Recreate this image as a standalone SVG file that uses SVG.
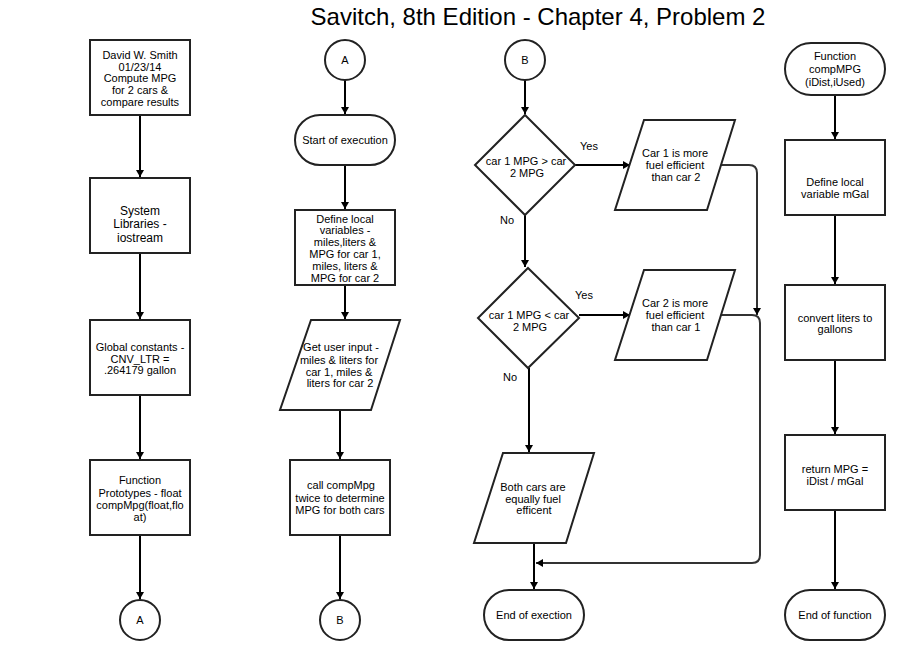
<svg xmlns="http://www.w3.org/2000/svg" width="905" height="660" viewBox="0 0 905 660">
<defs>
<style>
.n{fill:#fff;stroke:#222;stroke-width:2}
.t{font-family:"Liberation Sans",Arial,sans-serif;font-size:11px;fill:#000;text-anchor:middle}
.t12{font-size:12px}
.c{fill:none;stroke:#000;stroke-width:2}
.g{fill:none;stroke:#333;stroke-width:2}
.title{font-family:"Liberation Sans",Arial,sans-serif;font-size:24px;fill:#000;text-anchor:middle}
</style>
<marker id="ah" markerWidth="9" markerHeight="9" refX="7" refY="4" orient="auto" markerUnits="userSpaceOnUse">
<path d="M0,0 L7,4 L0,8 z" fill="#000"/>
</marker>
</defs>
<rect width="905" height="660" fill="#fff"/>
<text class="title" x="538" y="25">Savitch, 8th Edition - Chapter 4, Problem 2</text>

<g id="connectors">
<path class="c" d="M140,115 V177" marker-end="url(#ah)"/>
<path class="c" d="M140,253 V319" marker-end="url(#ah)"/>
<path class="c" d="M140,395 V459" marker-end="url(#ah)"/>
<path class="c" d="M140,535 V599" marker-end="url(#ah)"/>
<path class="c" d="M345,80 V114" marker-end="url(#ah)"/>
<path class="c" d="M345,165 V209" marker-end="url(#ah)"/>
<path class="c" d="M345,285 V319" marker-end="url(#ah)"/>
<path class="c" d="M340,410 V459" marker-end="url(#ah)"/>
<path class="c" d="M340,535 V599" marker-end="url(#ah)"/>
<path class="c" d="M525,80 V114" marker-end="url(#ah)"/>
<path class="c" d="M575,165 H630" marker-end="url(#ah)"/>
<path class="c" d="M525,215 V267" marker-end="url(#ah)"/>
<path class="c" d="M579,315 H630" marker-end="url(#ah)"/>
<path class="c" d="M529,368 V452" marker-end="url(#ah)"/>
<path class="c" d="M534,543 V589" marker-end="url(#ah)"/>
<path class="g" d="M720,165 H749 Q757,165 757,173 V315" marker-end="url(#ah)"/>
<path class="g" d="M720,315 H752 Q760,315 760,323 V555 Q760,563 752,563 H536" marker-end="url(#ah)"/>
<path class="c" d="M835,95 V139" marker-end="url(#ah)"/>
<path class="c" d="M835,215 V284" marker-end="url(#ah)"/>
<path class="c" d="M835,360 V434" marker-end="url(#ah)"/>
<path class="c" d="M835,510 V589" marker-end="url(#ah)"/>
<text class="t" x="589" y="150">Yes</text>
<text class="t" x="507" y="223.5">No</text>
<text class="t" x="584" y="299">Yes</text>
<text class="t" x="510" y="381">No</text>
</g>

<g id="header">
<rect class="n" x="90" y="40" width="100" height="75"/>
<text class="t" x="140" y="59">David W. Smith</text>
<text class="t" x="140" y="70.7">01/23/14</text>
<text class="t" x="140" y="82.4">Compute MPG</text>
<text class="t" x="140" y="94">for 2 cars &amp;</text>
<text class="t" x="140" y="105.7">compare results</text>
</g>
<g id="libraries">
<rect class="n" x="90" y="178" width="100" height="75"/>
<text class="t t12" x="140" y="214.5">System</text>
<text class="t t12" x="140" y="228">Libraries -</text>
<text class="t t12" x="140" y="241.5">iostream</text>
</g>
<g id="constants">
<rect class="n" x="90" y="320" width="100" height="75"/>
<text class="t" x="140" y="351">Global constants -</text>
<text class="t" x="140" y="362.5">CNV_LTR =</text>
<text class="t" x="140" y="374">.264179 gallon</text>
</g>
<g id="prototypes">
<rect class="n" x="90" y="460" width="100" height="75"/>
<text class="t" x="140" y="484">Function</text>
<text class="t" x="140" y="496.5">Prototypes - float</text>
<text class="t" x="140" y="509">compMpg(float,flo</text>
<text class="t" x="140" y="520.5">at)</text>
</g>
<g id="connA1">
<circle class="n" cx="140" cy="620" r="20"/>
<text class="t" x="140" y="624">A</text>
</g>

<g id="connA2">
<circle class="n" cx="345" cy="60" r="20"/>
<text class="t" x="345" y="64">A</text>
</g>
<g id="start">
<rect class="n" x="295" y="115" width="100" height="50" rx="25"/>
<text class="t" x="345" y="144">Start of execution</text>
</g>
<g id="locals">
<rect class="n" x="295" y="210" width="100" height="75"/>
<text class="t" x="345" y="222.5">Define local</text>
<text class="t" x="345" y="234.3">variables -</text>
<text class="t" x="345" y="246">miles,liters &amp;</text>
<text class="t" x="345" y="258">MPG for car 1,</text>
<text class="t" x="345" y="270">miles, liters &amp;</text>
<text class="t" x="345" y="282">MPG for car 2</text>
</g>
<g id="input">
<polygon class="n" points="311,320 400,320 371,410 280,410"/>
<text class="t" x="341" y="351">Get user input -</text>
<text class="t" x="339" y="363.5">miles &amp; liters for</text>
<text class="t" x="339" y="375.5">car 1, miles &amp;</text>
<text class="t" x="340" y="387.3">liters for car 2</text>
</g>
<g id="call">
<rect class="n" x="290" y="460" width="100" height="75"/>
<text class="t" x="341" y="489">call compMpg</text>
<text class="t" x="340" y="501.5">twice to determine</text>
<text class="t" x="340" y="513.5">MPG for both cars</text>
</g>
<g id="connB1">
<circle class="n" cx="340" cy="620" r="20"/>
<text class="t" x="340" y="624">B</text>
</g>

<g id="connB2">
<circle class="n" cx="525" cy="60" r="20"/>
<text class="t" x="525" y="64">B</text>
</g>
<g id="decision1">
<polygon class="n" points="525,115 575,165 525,215 475,165"/>
<text class="t" x="526" y="165">car 1 MPG &gt; car</text>
<text class="t" x="527" y="177">2 MPG</text>
</g>
<g id="out1">
<polygon class="n" points="644,120 735,120 707,210 615,210"/>
<text class="t" x="675" y="157">Car 1 is more</text>
<text class="t" x="675" y="169">fuel efficient</text>
<text class="t" x="676" y="181">than car 2</text>
</g>
<g id="decision2">
<polygon class="n" points="528,268 579,318 528,368 478,318"/>
<text class="t" x="529" y="318.5">car 1 MPG &lt; car</text>
<text class="t" x="530" y="331">2 MPG</text>
</g>
<g id="out2">
<polygon class="n" points="644,270 735,270 707,360 615,360"/>
<text class="t" x="675" y="307">Car 2 is more</text>
<text class="t" x="675" y="319">fuel efficient</text>
<text class="t" x="676" y="331">than car 1</text>
</g>
<g id="out3">
<polygon class="n" points="503,453 594,453 566,543 474,543"/>
<text class="t" x="533" y="491">Both cars are</text>
<text class="t" x="533" y="502.7">equally fuel</text>
<text class="t" x="534" y="514.3">efficent</text>
</g>
<g id="end1">
<rect class="n" x="484" y="590" width="100" height="50" rx="25"/>
<text class="t" x="534" y="619">End of exection</text>
</g>

<g id="func">
<rect class="n" x="785" y="43" width="100" height="52" rx="26"/>
<text class="t" x="835" y="60">Function</text>
<text class="t" x="835" y="73">compMPG</text>
<text class="t" x="835" y="86">(iDist,iUsed)</text>
</g>
<g id="mgal">
<rect class="n" x="785" y="140" width="100" height="75"/>
<text class="t" x="835" y="186">Define local</text>
<text class="t" x="835" y="197.5">variable mGal</text>
</g>
<g id="convert">
<rect class="n" x="785" y="285" width="100" height="75"/>
<text class="t" x="835" y="321.5">convert liters to</text>
<text class="t" x="835" y="333">gallons</text>
</g>
<g id="return">
<rect class="n" x="785" y="435" width="100" height="75"/>
<text class="t" x="835" y="472.5">return MPG =</text>
<text class="t" x="835" y="485">iDist / mGal</text>
</g>
<g id="end2">
<rect class="n" x="785" y="590" width="100" height="50" rx="25"/>
<text class="t" x="835" y="619">End of function</text>
</g>
</svg>
